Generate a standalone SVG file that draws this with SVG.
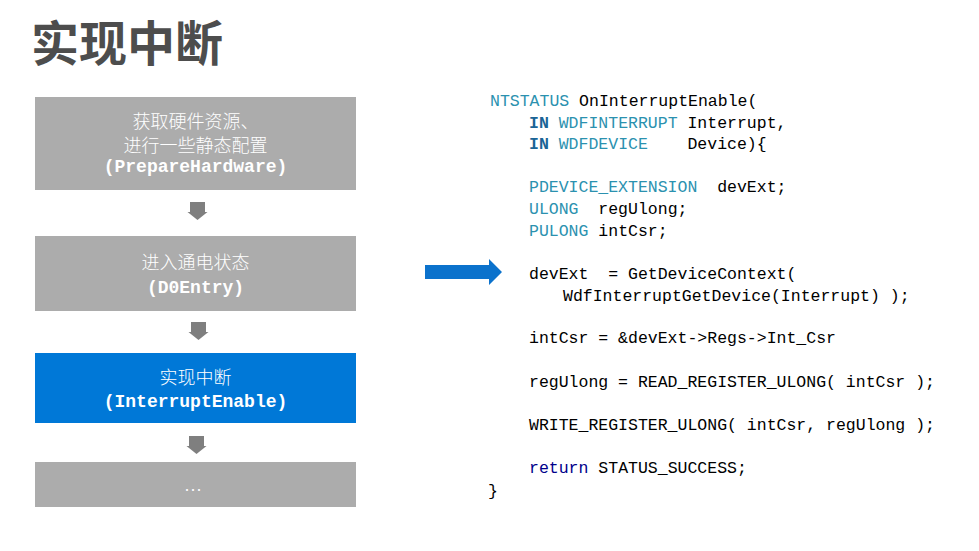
<svg xmlns="http://www.w3.org/2000/svg" width="979" height="551" viewBox="0 0 979 551">
<defs>
<style>
.bg{fill:#ffffff}
.gray{fill:#acacac}
.blue{fill:#0078d7}
.cjk{font-family:"Noto Sans CJK SC","Liberation Sans",sans-serif;font-size:18px;fill:#ffffff;text-anchor:middle;font-weight:300}
.fn{font-family:"Liberation Mono","DejaVu Sans Mono",monospace;font-size:18px;font-weight:bold;fill:#ffffff;text-anchor:middle}
.title{font-family:"Noto Sans CJK SC","Liberation Sans",sans-serif;font-size:48px;fill:#4d4d4d;font-weight:bold}
.code{font-family:"Liberation Mono","DejaVu Sans Mono",monospace;font-size:16.5px;fill:#000000;white-space:pre}
.ty{fill:#2b91af}
.kw{fill:#1a6496;font-weight:bold}
.ret{fill:#00008b}
.sarrow{fill:#7f7f7f}
.barrow{fill:#0b72cc}
</style>
</defs>
<rect class="bg" x="0" y="0" width="979" height="551"/>
<text class="title" x="31" y="61">实现中断</text>

<g id="node-prepare">
<rect class="gray" x="35" y="97" width="321" height="93"/>
<text class="cjk" x="195.5" y="128">获取硬件资源、</text>
<text class="cjk" x="195.5" y="152">进行一些静态配置</text>
<text class="fn" x="195.5" y="172">(PrepareHardware)</text>
</g>
<g id="node-d0entry">
<rect class="gray" x="35" y="236" width="321" height="75"/>
<text class="cjk" x="195.5" y="269">进入通电状态</text>
<text class="fn" x="195.5" y="293">(D0Entry)</text>
</g>
<g id="node-interrupt">
<rect class="blue" x="35" y="353" width="321" height="70"/>
<text class="cjk" x="195.5" y="384">实现中断</text>
<text class="fn" x="195.5" y="407">(InterruptEnable)</text>
</g>
<g id="node-more">
<rect class="gray" x="35" y="462" width="321" height="45"/>
<text class="cjk" x="193" y="497">…</text>
</g>

<g id="connectors">
<path class="sarrow" d="M190,202 H205 V212 H207.5 L197.5,220 L187.5,212 H190 Z"/>
<path class="sarrow" d="M191,322 H206 V332 H208.5 L198.5,340 L188.5,332 H191 Z"/>
<path class="sarrow" d="M189,436 H204 V446 H206.5 L196.5,454 L186.5,446 H189 Z"/>
<path class="barrow" d="M425,265 H489 V259 L502,272 L489,285 V279 H425 Z"/>
</g>

<g id="code">
<text class="code" x="490" y="106"><tspan class="ty">NTSTATUS</tspan> OnInterruptEnable(</text>
<text class="code" x="529" y="128"><tspan class="kw">IN</tspan> <tspan class="ty">WDFINTERRUPT</tspan> Interrupt,</text>
<text class="code" x="529" y="149"><tspan class="kw">IN</tspan> <tspan class="ty">WDFDEVICE</tspan>    Device){</text>
<text class="code" x="529" y="192"><tspan class="ty">PDEVICE_EXTENSION</tspan>  devExt;</text>
<text class="code" x="529" y="214"><tspan class="ty">ULONG</tspan>  regUlong;</text>
<text class="code" x="529" y="236"><tspan class="ty">PULONG</tspan> intCsr;</text>
<text class="code" x="529" y="279">devExt  = GetDeviceContext(</text>
<text class="code" x="563" y="301">WdfInterruptGetDevice(Interrupt) );</text>
<text class="code" x="529" y="343">intCsr = &amp;devExt-&gt;Regs-&gt;Int_Csr</text>
<text class="code" x="529" y="387">regUlong = READ_REGISTER_ULONG( intCsr );</text>
<text class="code" x="529" y="430">WRITE_REGISTER_ULONG( intCsr, regUlong );</text>
<text class="code" x="529" y="473"><tspan class="ret">return</tspan> STATUS_SUCCESS;</text>
<text class="code" x="488" y="496">}</text>
</g>
</svg>
